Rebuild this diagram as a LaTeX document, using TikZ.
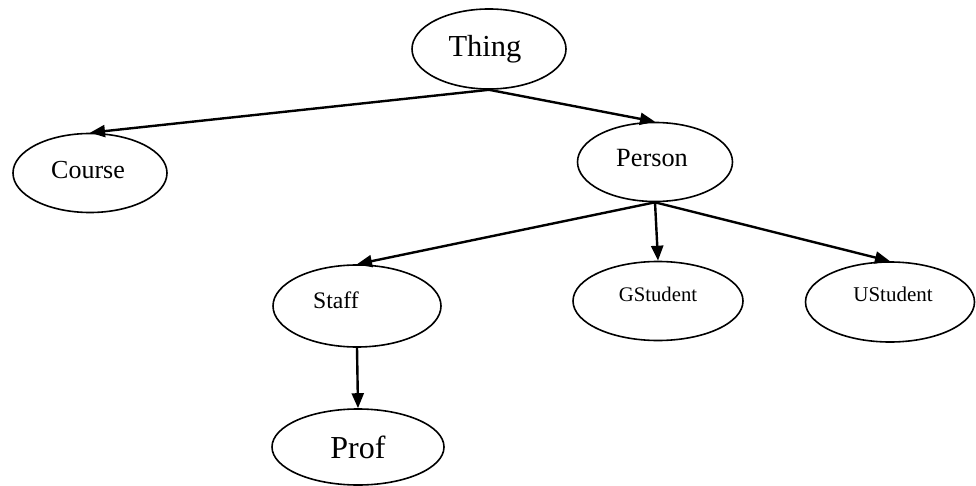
\documentclass[tikz,border=0pt]{standalone}
\usepackage{fontspec}
\setmainfont{Liberation Serif}
\usetikzlibrary{shapes.geometric,arrows.meta}
\begin{document}
\begin{tikzpicture}[x=1pt,y=-1pt,
  ell/.style={draw=black, line width=1.6pt, ellipse, inner sep=0pt},
  tag/.style={inner sep=0pt, text=black},
  isa/.style={line width=2.4pt, -{Triangle[length=15pt,width=12pt]}}]
  \useasboundingbox (0,0) rectangle (976,486);

  % class hierarchy nodes
  \node[ell, minimum width=154pt, minimum height=80pt,
        label={[tag, name=thingT, font=\fontsize{30.5}{34}\selectfont, xshift=-4pt]center:Thing}]
        (thing) at (489,49) {};
  \node[ell, minimum width=154pt, minimum height=79pt,
        label={[tag, name=courseT, font=\fontsize{26}{30}\selectfont, xshift=-2pt, yshift=3pt]center:Course}]
        (course) at (90,173) {};
  \node[ell, minimum width=155pt, minimum height=79pt,
        label={[tag, name=personT, font=\fontsize{26.3}{30}\selectfont, xshift=-3pt, yshift=4pt]center:Person}]
        (person) at (655,162) {};
  \node[ell, minimum width=168pt, minimum height=82pt,
        label={[tag, name=staffT, font=\fontsize{23.7}{27}\selectfont, xshift=-21pt, yshift=6pt]center:Staff}]
        (staff) at (357,306) {};
  \node[ell, minimum width=170pt, minimum height=79pt,
        label={[tag, name=gstudT, font=\fontsize{20.7}{24}\selectfont, yshift=7pt]center:GStudent}]
        (gstud) at (658,301) {};
  \node[ell, minimum width=169pt, minimum height=80pt,
        label={[tag, name=ustudT, font=\fontsize{21}{24}\selectfont, xshift=3pt, yshift=8pt]center:UStudent}]
        (ustud) at (890,302) {};
  \node[ell, minimum width=172pt, minimum height=76pt,
        label={[tag, name=profT, font=\fontsize{32}{36}\selectfont]center:Prof}]
        (prof) at (358,447) {};

  % subclass arrows
  \draw[isa] (thing.south) -- (course.north);
  \draw[isa] (thing.south) -- (person.north);
  \draw[isa] (person.south) -- (staff.north);
  \draw[isa] (person.south) -- (gstud.north);
  \draw[isa] (person.south) -- (ustud.north);
  \draw[isa] (staff.south) -- (prof.north);
\end{tikzpicture}
\end{document}
